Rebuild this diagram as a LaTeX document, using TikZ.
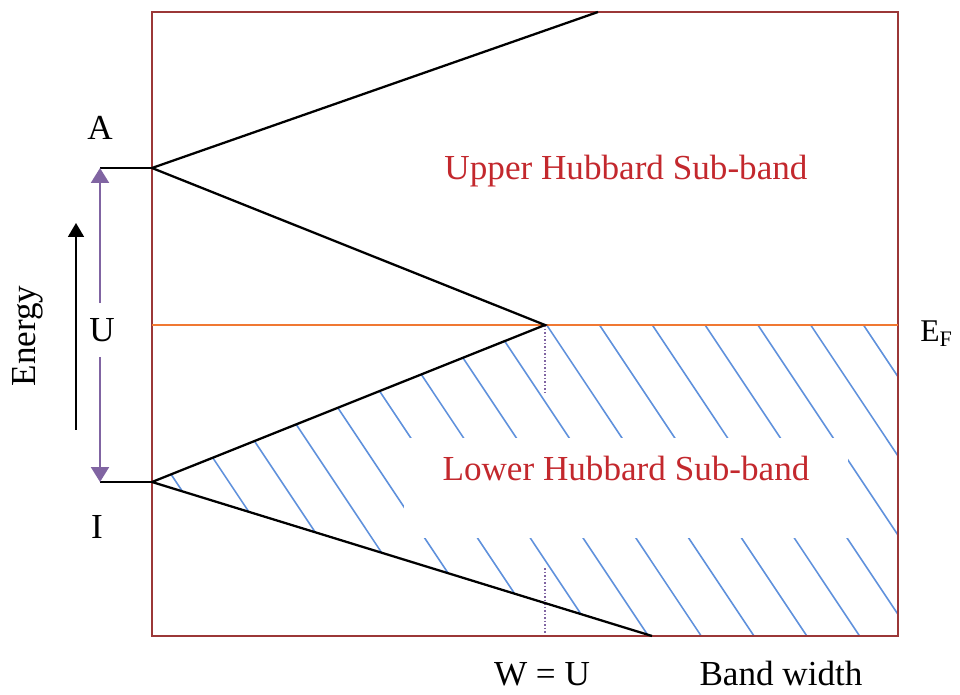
\documentclass[tikz,border=0pt]{standalone}
\usepackage{fontspec}
\setmainfont{Liberation Serif}
\usepackage{xcolor}
\usetikzlibrary{arrows.meta}
\definecolor{boxred}{RGB}{155,55,55}
\definecolor{labelred}{RGB}{195,40,45}
\definecolor{fermiorange}{RGB}{240,120,50}
\definecolor{hatchblue}{RGB}{95,145,220}
\definecolor{gapviolet}{RGB}{128,100,162}
\tikzset{
  band line/.style={black, line width=1.3pt, line join=miter},
  hatch line/.style={hatchblue, line width=0.9pt},
  label text/.style={font=\fontsize{20}{24}\selectfont, inner sep=0pt},
  band text/.style={label text, text=labelred},
}

\begin{document}
\begin{tikzpicture}[x=0.02cm, y=-0.02cm]
    \useasboundingbox (0,0) rectangle (960,695);

    % Points
    \coordinate (A) at (152,168);
    \coordinate (I) at (152,482);
    \coordinate (W) at (545,325);
    \coordinate (T) at (598,12);
    \coordinate (B) at (652,636);
    \coordinate (Aleft) at (100,168);
    \coordinate (Ileft) at (100,482);

    % Hatched lower band
    \begin{scope}
        \clip (I) -- (W) -- (898,325) -- (898,636) -- (B) -- cycle;
        \foreach \k in {-13,...,7}
            \draw[hatch line] (546.7+52.8*\k, 325) -- ++(207.3, 311);
    \end{scope}

    % Band labels
    \node[band text, anchor=base, fill=white, minimum width=8.88cm,
          text height=0.84cm, text depth=1.16cm] (lower) at (626,480)
          {Lower Hubbard Sub-band};
    \node[band text, anchor=base] (upper) at (626,180) {Upper Hubbard Sub-band};

    % W = U marker
    \draw[gapviolet, densely dotted, line width=1pt] (W) -- (545,392);
    \draw[gapviolet, densely dotted, line width=1pt] (545,568) -- (545,636);

    % Frame and Fermi level
    \draw[boxred, line width=1.5pt] (152,12) rectangle (898,636);
    \draw[fermiorange, line width=1pt] (152,325) -- (898,325);

    % Band edges
    \draw[band line] (T) -- (A) -- (W) -- (I) -- (B);
    \draw[black, line width=1pt] (Aleft) -- (A);
    \draw[black, line width=1pt] (Ileft) -- (I);

    % Gap U
    \node[label text, minimum height=1.06cm] (U) at (102,330) {U};
    \draw[gapviolet, line width=1.3pt, -{Triangle[width=0.36cm,length=0.3cm]}]
        (U.north -| Aleft) -- (Aleft);
    \draw[gapviolet, line width=1.3pt, -{Triangle[width=0.36cm,length=0.3cm]}]
        (U.south -| Ileft) -- (Ileft);

    % Energy axis
    \coordinate (Ebot) at (76,430);
    \coordinate (Etop) at (76,223);
    \draw[black, line width=1pt, -{Triangle[width=0.32cm,length=0.28cm]}] (Ebot) -- (Etop);
    \node[label text, rotate=90] (energy) at (28,336) {Energy};

    % Label points
    \node[label text] (Alabel) at (100,128) {A};
    \node[label text] (Ilabel) at (97,527) {I};
    \node[label text, anchor=base west, font=\fontsize{18}{22}\selectfont] (EF) at (920,342) {E$_\mathrm{F}$};
    \node[label text, anchor=base] (WU) at (542,685) {W = U};
    \node[label text, anchor=base] (bw) at (781,685) {Band width};
\end{tikzpicture}
\end{document}
